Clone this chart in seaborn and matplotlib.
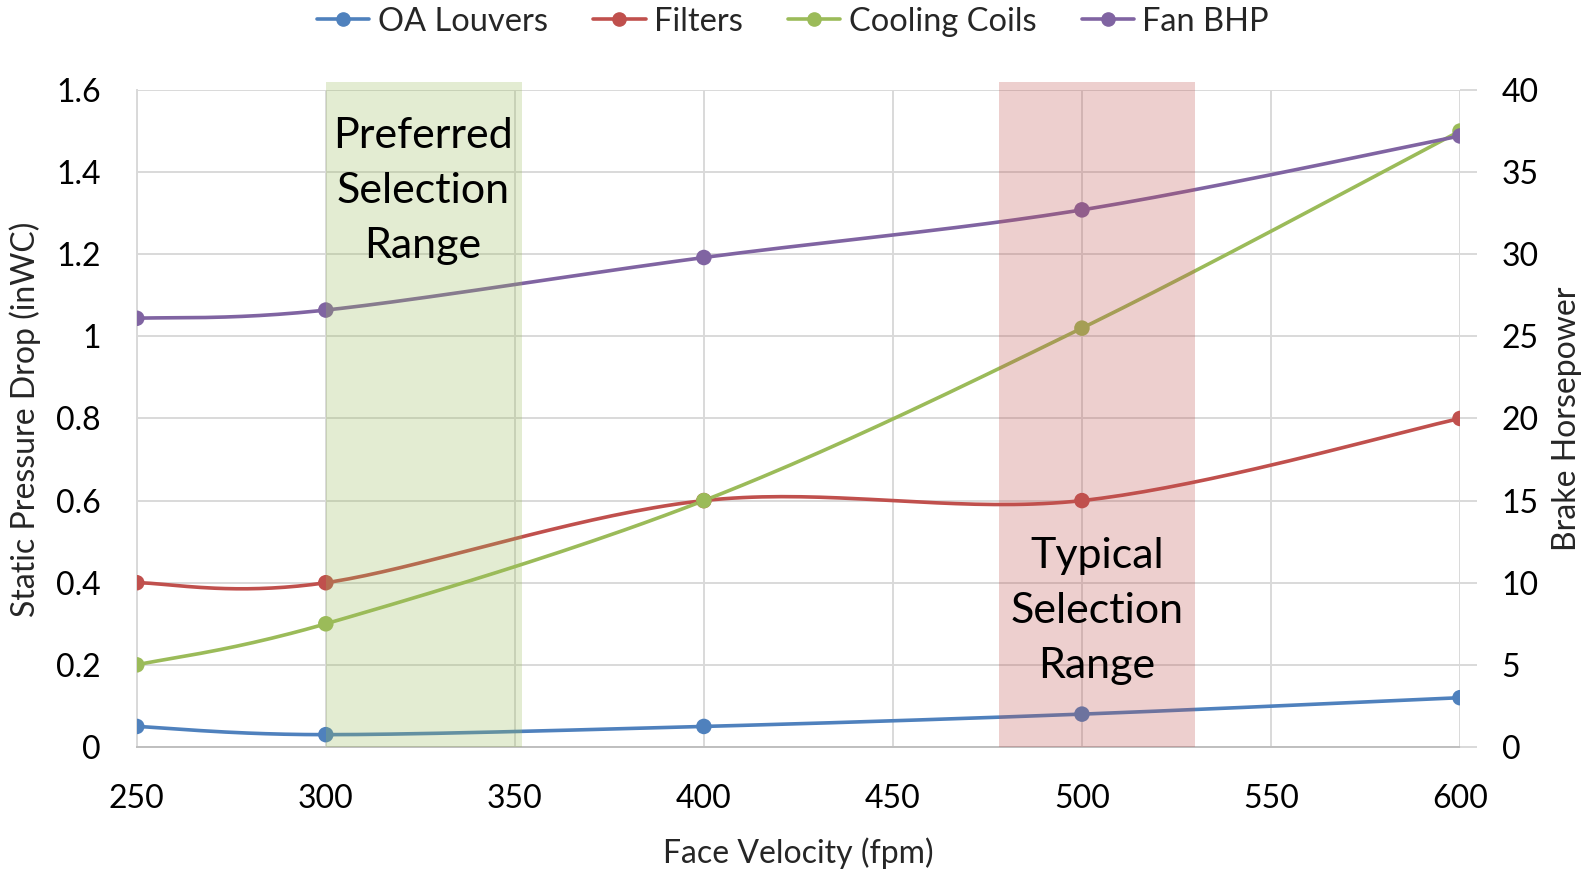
import numpy as np
import pandas as pd
import matplotlib
matplotlib.use("Agg")
import matplotlib.pyplot as plt
from matplotlib.lines import Line2D
import seaborn as sns

# ---- data ----
velocity = [250, 300, 400, 500, 600]
oa_louvers = [0.05, 0.03, 0.05, 0.08, 0.12]
filters = [0.40, 0.40, 0.60, 0.60, 0.80]
cooling_coils = [0.20, 0.30, 0.60, 1.02, 1.50]
fan_bhp = [26.1, 26.6, 29.8, 32.7, 37.2]
series_names = ["OA Louvers", "Filters", "Cooling Coils", "Fan BHP"]
preferred_range = [300, 352]
typical_range = [478, 530]

colors = {"OA Louvers": "#4F81BD", "Filters": "#C0504D",
          "Cooling Coils": "#9BBB59", "Fan BHP": "#8064A2"}

sns.set_theme(style="white")
FONT = ["Lato", "DejaVu Sans"]
plt.rcParams["font.family"] = FONT


def smooth(xs, ys, n=40):
    """Excel-like smoothed line (Catmull-Rom Bezier through the points)."""
    xs = np.asarray(xs, float); ys = np.asarray(ys, float)
    P = np.column_stack([xs, ys])
    out = []
    for i in range(len(P) - 1):
        p0 = P[i - 1] if i > 0 else P[i]
        p1, p2 = P[i], P[i + 1]
        p3 = P[i + 2] if i + 2 < len(P) else P[i + 1]
        c1 = p1 + (p2 - p0) / 6.0
        c2 = p2 - (p3 - p1) / 6.0
        t = np.linspace(0, 1, n)[:, None]
        seg = ((1 - t) ** 3) * p1 + 3 * ((1 - t) ** 2) * t * c1 + 3 * (1 - t) * t ** 2 * c2 + t ** 3 * p2
        out.append(seg if i == 0 else seg[1:])
    s = np.vstack(out)
    return s[:, 0], s[:, 1]


fig = plt.figure(figsize=(15.83, 8.71), dpi=100)
ax = fig.add_axes([0.0864, 0.1424, 0.9223 - 0.0864, 0.8967 - 0.1424])
ax2 = ax.twinx()

grid_c = "#D9D9D9"
ax.set_xlim(250, 600)
ax.set_ylim(0, 1.6)
ax2.set_ylim(0, 40)
ax.set_xticks(np.arange(250, 601, 50))
ax.set_yticks(np.arange(0, 1.61, 0.2))
ax2.set_yticks(np.arange(0, 41, 5))
ax.set_yticklabels(["0", "0.2", "0.4", "0.6", "0.8", "1", "1.2", "1.4", "1.6"])
ax.grid(True, color=grid_c, linewidth=1.4)
ax.set_axisbelow(True)
for sp in ["top", "right"]:
    ax.spines[sp].set_visible(False)
for sp in ["top", "right", "left", "bottom"]:
    ax2.spines[sp].set_visible(False)
ax.spines["left"].set_color(grid_c)
ax.spines["left"].set_linewidth(1.4)
ax.spines["bottom"].set_color("#BFBFBF")
ax.spines["bottom"].set_linewidth(1.4)

left_series = {"OA Louvers": oa_louvers, "Filters": filters, "Cooling Coils": cooling_coils}
rows = []
for name, vals in left_series.items():
    sx, sy = smooth(velocity, vals)
    rows.append(pd.DataFrame({"x": sx, "y": sy, "series": name}))
df_left = pd.concat(rows, ignore_index=True)
pts_left = pd.concat([pd.DataFrame({"x": velocity, "y": v, "series": n}) for n, v in left_series.items()],
                     ignore_index=True)

sns.lineplot(data=df_left, x="x", y="y", hue="series", palette=colors, sort=False,
             estimator=None, units="series", linewidth=2.6, legend=False, ax=ax, zorder=3)
sns.scatterplot(data=pts_left, x="x", y="y", hue="series", palette=colors, s=125,
                edgecolor="none", legend=False, ax=ax, zorder=4)

fx, fy = smooth(velocity, fan_bhp)
df_fan = pd.DataFrame({"x": fx, "y": fy})
sns.lineplot(data=df_fan, x="x", y="y", color=colors["Fan BHP"], sort=False, estimator=None,
             linewidth=2.6, ax=ax2, zorder=3)
sns.scatterplot(x=velocity, y=fan_bhp, color=colors["Fan BHP"], s=125, edgecolor="none",
                ax=ax2, zorder=4)

# shaded ranges drawn on top (as in the reference)
ax2.axvspan(preferred_range[0], preferred_range[1], ymin=0, ymax=1.012, color="#9BBB59",
            alpha=0.27, linewidth=0, zorder=5, clip_on=False)
ax2.axvspan(typical_range[0], typical_range[1], ymin=0, ymax=1.012, color="#C0504D",
            alpha=0.27, linewidth=0, zorder=5, clip_on=False)

ax2.text(325.7, 1.354 * 25, "Preferred\nSelection\nRange", ha="center", va="center",
         fontsize=31, color="black", linespacing=1.55, zorder=6, family=FONT)
ax2.text(504, 0.331 * 25, "Typical\nSelection\nRange", ha="center", va="center",
         fontsize=31, color="black", linespacing=1.55, zorder=6, family=FONT)

ax.set_xlabel("")
ax.set_ylabel("")
ax2.set_xlabel("")
ax2.set_ylabel("")
ax.tick_params(axis="x", length=0, pad=27, labelsize=23, colors="black")
ax.tick_params(axis="y", length=0, pad=26, labelsize=23, colors="black")
ax2.tick_params(axis="y", length=12, width=1.4, color=grid_c, pad=18, labelsize=23,
                colors="black", direction="out")
ax2.tick_params(axis="y", color=grid_c)

fig.text(0.0158, 0.519, "Static Pressure Drop (inWC)", rotation=90, ha="center", va="center",
         fontsize=23)
fig.text(0.9896, 0.519, "Brake Horsepower", rotation=90, ha="center", va="center", fontsize=23)
fig.text(0.504, 0.021, "Face Velocity (fpm)", ha="center", va="center", fontsize=23)

handles = [Line2D([0], [0], color=colors[n], linewidth=2.6, marker="o", markersize=9.5)
           for n in series_names]
fig.legend(handles, series_names, loc="center", bbox_to_anchor=(0.501, 0.975), ncol=4,
           frameon=False, fontsize=23.5, handlelength=1.6, handletextpad=0.25,
           columnspacing=1.4)

fig.savefig("out.png", dpi=100)
